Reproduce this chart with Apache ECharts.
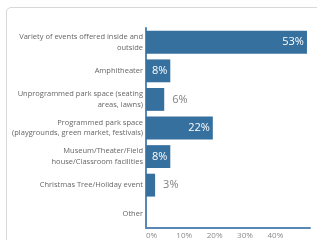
<!DOCTYPE html>
<html>
<head>
<meta charset="utf-8">
<script src="https://cdn.jsdelivr.net/npm/echarts@6/dist/echarts.min.js"></script>
<style>
  html, body { margin: 0; padding: 0; background: #fff; }
  #frame { position: absolute; left: 6px; top: 7px; width: 330px; height: 260px;
           border: 1px solid #d8d8d8; border-radius: 5px; }
  #chart { position: absolute; left: 0; top: 0; width: 317px; height: 240px; }
</style>
</head>
<body>
<div id="frame"></div>
<div id="chart"></div>
<script>
// categories top -> bottom
var categories = [
    'Variety of events offered inside and\noutside',
    'Amphitheater',
    'Unprogrammed park space (seating\nareas, lawns)',
    'Programmed park space\n(playgrounds, green market, festivals)',
    'Museum/Theater/Field\nhouse/Classroom facilities',
    'Christmas Tree/Holiday event',
    'Other'
];
var values = [53, 8, 6, 22, 8, 3, 0];
var tickValues = [0, 10, 20, 30, 40];

var barColor = '#36709f';

// small bars get their label outside in gray
var seriesData = [];
for (var i = 0; i < values.length; i++) {
    var item = { value: values[i] };
    if (values[i] === 0) {
        item.label = { show: false };
    } else if (values[i] < 8) {
        item.label = { position: 'right', color: '#808080', distance: 8 };
    }
    seriesData.push(item);
}

var chart = echarts.init(document.getElementById('chart'));
chart.setOption({
    animation: false,
    textStyle: { fontFamily: 'Open Sans' },
    grid: { left: 146, right: 7, top: 28, bottom: 11, containLabel: false },
    xAxis: {
        type: 'value',
        min: 0,
        max: 54,
        interval: 10,
        splitLine: { show: false },
        axisTick: { show: false },
        axisLine: { show: true, lineStyle: { color: '#5a88b5', width: 2 } },
        axisLabel: {
            fontSize: 8,
            color: '#8a8a8a',
            align: 'left',
            margin: 4,
            formatter: function (v) {
                return tickValues.indexOf(v) >= 0 ? v + '%' : '';
            }
        }
    },
    yAxis: {
        type: 'category',
        inverse: true,
        data: categories,
        axisTick: { show: false },
        axisLine: { show: true, lineStyle: { color: '#5a88b5', width: 2 } },
        axisLabel: {
            fontSize: 7.5,
            lineHeight: 10.5,
            color: '#666666',
            margin: 3,
            align: 'right'
        }
    },
    series: [{
        type: 'bar',
        data: seriesData,
        barCategoryGap: '20%',
        itemStyle: { color: barColor },
        label: {
            show: true,
            position: 'insideRight',
            distance: 3,
            color: '#ffffff',
            fontSize: 11,
            formatter: '{c}%'
        }
    }]
});
</script>
</body>
</html>
